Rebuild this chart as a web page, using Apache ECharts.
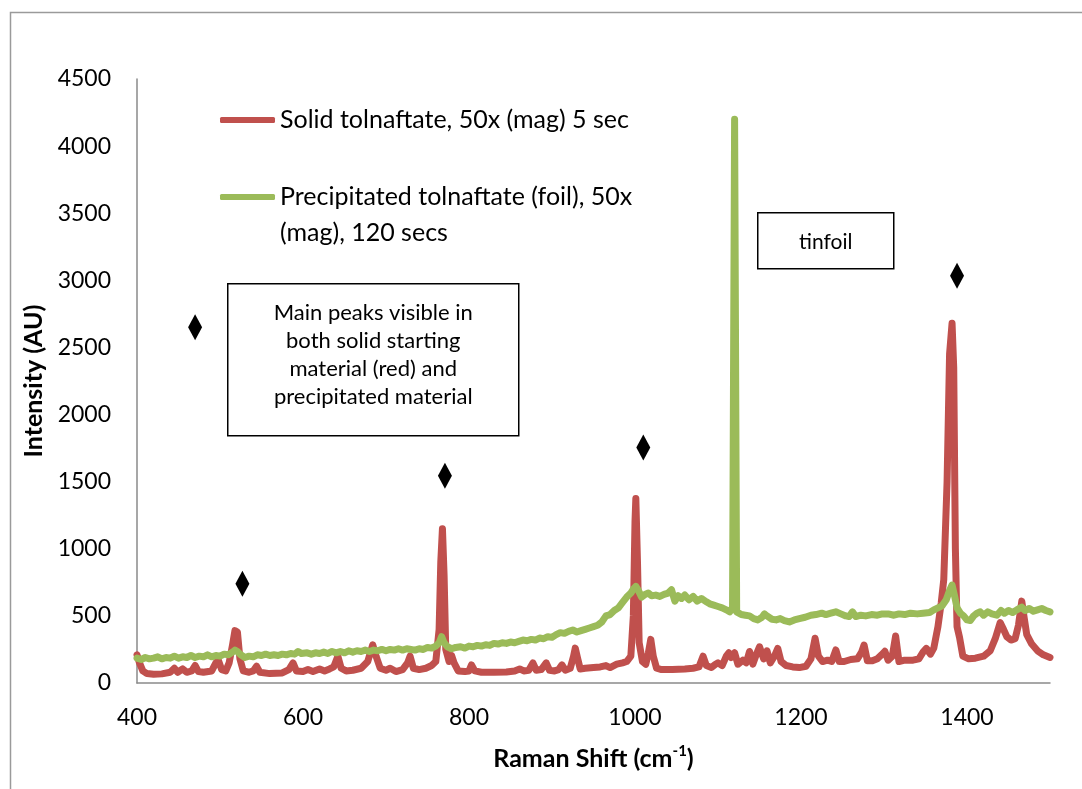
<!DOCTYPE html>
<html>
<head>
<meta charset="utf-8">
<title>Raman spectra of tolnaftate</title>
<script src="https://cdn.jsdelivr.net/npm/echarts@6/dist/echarts.min.js"></script>
<style>
  html, body { margin: 0; padding: 0; background: #fff; }
  #chart { width: 1082px; height: 789px; }
</style>
</head>
<body>
<div id="chart"></div>
<script>
// Solid tolnaftate, 50x (mag), 5 s exposure
const solidShift = [400,403,407,412,420,430,440,445,449,455,460,466,470,474,480,490,495,498,502,507,511,515,518,521,524,528,535,540,544,548,560,575,583,588,592,600,606,612,620,626,632,637,642,646,652,660,670,678,684,688,693,700,705,712,720,726,729,733,740,748,755,760,764,766,768,770,772,776,779,782,787,795,800,803,807,815,830,845,855,861,866,872,877,881,887,893,897,903,908,912,916,922,926,928,931,934,940,950,958,965,970,978,985,990,995,998,1000,1001,1003,1005,1009,1013,1016,1019,1022,1026,1032,1045,1060,1070,1077,1082,1086,1092,1097,1100,1105,1110,1113,1116,1120,1124,1130,1134,1138,1142,1146,1150,1155,1159,1163,1168,1172,1176,1182,1190,1198,1206,1212,1217,1221,1226,1232,1237,1242,1246,1252,1260,1268,1273,1276,1280,1286,1292,1297,1301,1305,1310,1314,1318,1325,1335,1342,1347,1351,1356,1360,1365,1369,1372,1376,1379,1382,1384,1386,1388,1391,1395,1402,1410,1420,1428,1434,1440,1444,1448,1453,1458,1462,1466,1469,1472,1478,1485,1492,1500];
const solidIntensity = [210,150,90,70,65,68,80,110,80,105,80,90,130,85,80,90,150,170,100,90,150,280,390,380,180,90,80,90,125,80,70,75,100,150,90,85,100,85,105,90,105,120,200,110,90,95,110,160,285,200,110,95,110,85,100,150,200,110,100,110,130,160,400,900,1150,800,250,160,205,150,90,85,90,135,90,80,80,82,90,105,90,95,150,95,100,150,95,90,100,135,95,110,200,260,180,105,110,115,120,130,115,140,150,160,200,500,1200,1375,900,300,160,140,220,325,200,110,100,100,105,110,120,200,130,115,140,150,130,200,225,190,225,140,170,150,235,140,210,270,180,240,150,200,258,160,130,120,115,125,180,333,200,160,170,160,246,160,160,175,180,230,283,165,165,180,210,236,170,200,350,160,170,170,180,230,258,215,260,420,600,770,1500,2450,2680,2350,1000,420,340,200,180,185,200,240,330,450,400,345,320,330,430,610,480,360,290,240,210,190];

// Precipitated tolnaftate on foil, 50x (mag), 120 s exposure
const foilShift = [400,405,410,415,420,425,430,435,440,445,450,455,460,465,470,475,480,485,490,495,500,505,510,515,518,521,525,530,535,540,545,550,555,560,565,570,575,580,585,590,594,598,605,610,615,620,625,630,635,640,645,650,655,660,665,670,675,680,685,690,695,700,705,710,715,720,725,730,735,740,745,750,755,760,764,767,770,774,779,784,790,795,800,805,810,815,820,825,830,835,840,845,850,855,860,865,870,875,880,885,890,895,900,905,910,915,920,925,930,935,940,945,950,955,960,965,970,975,980,985,990,995,998,1001,1004,1008,1012,1016,1020,1025,1030,1035,1040,1044,1048,1052,1056,1060,1065,1070,1075,1080,1086,1090,1095,1100,1105,1110,1114,1117.5,1120,1122.5,1124,1128,1133,1138,1143,1148,1153,1156,1159,1165,1170,1175,1180,1186,1192,1198,1205,1212,1218,1225,1230,1236,1242,1248,1254,1258,1262,1266,1272,1278,1285,1292,1298,1305,1312,1318,1325,1332,1340,1347,1355,1360,1365,1370,1375,1379,1382,1385,1388,1392,1396,1400,1404,1408,1412,1416,1420,1425,1430,1436,1441,1445,1450,1455,1460,1466,1470,1475,1480,1485,1490,1495,1500];
const foilIntensity = [185,175,190,180,185,195,180,190,185,200,185,195,190,205,190,200,195,210,195,205,200,215,210,230,245,235,210,190,200,195,210,205,215,205,210,205,215,210,220,215,235,220,225,215,225,220,230,220,235,225,235,225,240,230,240,235,245,235,245,240,250,240,250,245,255,245,255,250,245,255,250,265,260,275,300,345,300,270,255,265,270,260,275,270,280,275,285,280,295,290,300,295,305,300,310,320,315,325,320,335,330,345,340,360,375,370,385,395,380,390,400,410,420,430,455,500,510,540,560,600,640,670,700,720,690,640,660,670,650,655,645,660,670,695,610,650,630,655,620,645,610,630,605,590,580,570,560,545,530,560,4200,530,520,510,505,500,480,470,490,515,500,475,470,480,465,455,470,480,490,505,510,520,510,520,530,515,500,495,530,495,505,500,510,505,515,515,505,515,510,520,515,520,525,545,560,575,620,690,730,650,560,520,500,470,465,500,520,530,505,530,515,505,540,520,540,525,545,565,540,555,535,545,555,540,530];

// Main peaks flagged with diamonds
const markerShift = [470, 527, 771, 1010, 1388];
const markerIntensity = [2650, 740, 1545, 1755, 3035];

const xTicks = { min: 400, max: 1500, step: 200 };
const yTicks = { min: 0, max: 4500, step: 500 };

const solidName = 'Solid tolnaftate, 50x (mag) 5 sec';
const foilName = 'Precipitated tolnaftate (foil), 50x (mag), 120 secs';

const FONT = 'Lato, "Open Sans", sans-serif';
const zip = (xs, ys) => xs.map((x, i) => [x, ys[i]]);
const plain = v => String(v);

const chart = echarts.init(document.getElementById('chart'), null, { renderer: 'canvas' });

chart.setOption({
  backgroundColor: '#ffffff',
  animation: false,
  textStyle: { fontFamily: FONT, color: '#000' },
  grid: { left: 137, right: 32, top: 79, bottom: 106, containLabel: false, outerBoundsMode: 'none' },
  legend: [
    {
      data: [solidName],
      left: 220, top: 105, padding: 0,
      icon: 'roundRect', itemWidth: 55, itemHeight: 6,
      textStyle: { fontFamily: FONT, fontSize: 25, color: '#000', lineHeight: 30 },
      selectedMode: false
    },
    {
      data: [foilName],
      left: 220, top: 182, padding: 0,
      icon: 'roundRect', itemWidth: 55, itemHeight: 6,
      formatter: () => 'Precipitated tolnaftate (foil), 50x',
      textStyle: { fontFamily: FONT, fontSize: 25, color: '#000', lineHeight: 30 },
      selectedMode: false
    }
  ],
  xAxis: {
    type: 'value',
    min: xTicks.min, max: xTicks.max, interval: xTicks.step,
    name: 'Raman Shift (cm{sup|-1})',
    nameLocation: 'middle', nameGap: 61,
    nameTextStyle: {
      fontFamily: FONT, fontSize: 25, fontWeight: 'bold', color: '#000', lineHeight: 30,
      rich: { sup: { fontFamily: FONT, fontSize: 15, fontWeight: 'bold', color: '#000', verticalAlign: 'top', lineHeight: 15 } }
    },
    axisLine: { show: true, lineStyle: { color: '#8a8a8a', width: 1.5 } },
    axisTick: { show: false },
    splitLine: { show: false },
    axisLabel: { fontFamily: FONT, fontSize: 23, color: '#000', margin: 23, showMaxLabel: false, formatter: plain }
  },
  yAxis: {
    type: 'value',
    min: yTicks.min, max: yTicks.max, interval: yTicks.step,
    name: 'Intensity (AU)',
    nameLocation: 'middle', nameGap: 89, nameRotate: 90,
    nameTextStyle: { fontFamily: FONT, fontSize: 25, fontWeight: 'bold', color: '#000' },
    axisLine: { show: true, lineStyle: { color: '#8a8a8a', width: 1.5 } },
    axisTick: { show: false },
    splitLine: { show: false },
    axisLabel: { fontFamily: FONT, fontSize: 23, color: '#000', margin: 26, formatter: plain }
  },
  series: [
    {
      name: solidName,
      type: 'line',
      data: zip(solidShift, solidIntensity),
      showSymbol: false,
      smooth: false,
      color: '#C0504D',
      lineStyle: { color: '#C0504D', width: 7, cap: 'round', join: 'round' },
      z: 2
    },
    {
      name: foilName,
      type: 'line',
      data: zip(foilShift, foilIntensity),
      showSymbol: false,
      smooth: false,
      color: '#9BBB59',
      lineStyle: { color: '#9BBB59', width: 7, cap: 'round', join: 'round' },
      z: 3
    },
    {
      name: 'Main peaks',
      type: 'scatter',
      data: zip(markerShift, markerIntensity),
      symbol: 'diamond',
      symbolSize: [14, 26],
      itemStyle: { color: '#000', opacity: 1 },
      z: 4
    }
  ],
  graphic: [
    // chart frame
    { type: 'rect', left: 8, top: 10, shape: { width: 1100, height: 800 },
      style: { fill: 'none', stroke: '#9a9a9a', lineWidth: 1.5 }, silent: true },
    // wrapped remainder of the second legend entry
    { type: 'text', left: 280, top: 220,
      style: { text: '(mag), 120 secs', font: '25px ' + FONT, fill: '#000' }, silent: true },
    // annotation box: main peaks
    { type: 'group', left: 227, top: 283, silent: true, children: [
      { type: 'rect', shape: { x: 0, y: 0, width: 291, height: 152 },
        style: { fill: '#fff', stroke: '#000', lineWidth: 1.5 } },
      { type: 'text', x: 145.5, y: 71,
        style: {
          text: 'Main peaks visible in\nboth solid starting\nmaterial (red) and\nprecipitated material',
          font: '22px ' + FONT, fill: '#000', align: 'center', verticalAlign: 'middle', lineHeight: 28
        } }
    ] },
    // annotation box: tinfoil
    { type: 'group', left: 757, top: 212, silent: true, children: [
      { type: 'rect', shape: { x: 0, y: 0, width: 136, height: 56 },
        style: { fill: '#fff', stroke: '#000', lineWidth: 1.5 } },
      { type: 'text', x: 68, y: 29,
        style: { text: 'tinfoil', font: '21px ' + FONT, fill: '#000', align: 'center', verticalAlign: 'middle' } }
    ] }
  ]
});
</script>
</body>
</html>
